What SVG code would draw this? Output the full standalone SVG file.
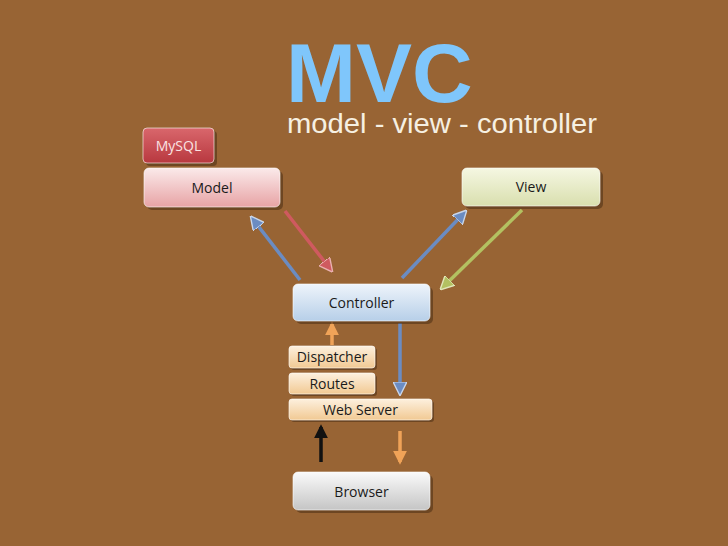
<svg xmlns="http://www.w3.org/2000/svg" width="728" height="546" viewBox="0 0 728 546">
<defs>
<linearGradient id="gRed" x1="0" y1="0" x2="0" y2="1"><stop offset="0" stop-color="#d9676c"/><stop offset="1" stop-color="#b8383f"/></linearGradient>
<linearGradient id="gPink" x1="0" y1="0" x2="0" y2="1"><stop offset="0" stop-color="#fbeaea"/><stop offset="1" stop-color="#e7a3a5"/></linearGradient>
<linearGradient id="gGreen" x1="0" y1="0" x2="0" y2="1"><stop offset="0" stop-color="#f5f7e2"/><stop offset="1" stop-color="#d9dfae"/></linearGradient>
<linearGradient id="gBlue" x1="0" y1="0" x2="0" y2="1"><stop offset="0" stop-color="#eef4fb"/><stop offset="1" stop-color="#b7cfe8"/></linearGradient>
<linearGradient id="gPeach" x1="0" y1="0" x2="0" y2="1"><stop offset="0" stop-color="#fdf0de"/><stop offset="1" stop-color="#f1c993"/></linearGradient>
<linearGradient id="gGray" x1="0" y1="0" x2="0" y2="1"><stop offset="0" stop-color="#fafafa"/><stop offset="1" stop-color="#c5c5c5"/></linearGradient>
<marker id="mBlue" viewBox="0 0 10 10" refX="8" refY="5" markerWidth="4" markerHeight="4" orient="auto"><path d="M0,0 L10,5 L0,10 z" fill="#6b8cc2" stroke="#c9d6ea" stroke-width="1"/></marker>
<marker id="mRed" viewBox="0 0 10 10" refX="8" refY="5" markerWidth="4" markerHeight="4" orient="auto"><path d="M0,0 L10,5 L0,10 z" fill="#cf5a5f" stroke="#eab0b0" stroke-width="1"/></marker>
<marker id="mGreen" viewBox="0 0 10 10" refX="8" refY="5" markerWidth="4" markerHeight="4" orient="auto"><path d="M0,0 L10,5 L0,10 z" fill="#b3c161" stroke="#e1e6b8" stroke-width="1"/></marker>
<marker id="mOrange" viewBox="0 0 10 10" refX="8" refY="5" markerWidth="4" markerHeight="4" orient="auto"><path d="M0,0 L10,5 L0,10 z" fill="#f0a358"/></marker>
<marker id="mBlack" viewBox="0 0 10 10" refX="8" refY="5" markerWidth="4" markerHeight="4" orient="auto"><path d="M0,0 L10,5 L0,10 z" fill="#111"/></marker>
</defs>
<style>
.shadow{fill:#4a2e14;opacity:0.55}
.box{stroke:#ffffff;stroke-opacity:0.6;stroke-width:1}
.lbl{font-family:"Open Sans","Noto Sans",sans-serif;font-size:14px;fill:#1a1a1a;text-anchor:middle}
.arr{fill:none;stroke-width:3.5;stroke-linecap:butt}
</style>
<rect width="728" height="546" fill="#986434"/>
<g id="title">
<text x="286" y="102" font-family="Liberation Sans, Arial, sans-serif" font-weight="bold" font-size="84" fill="#7fc6fb">MVC</text>
<text x="287" y="133" font-family="Liberation Sans, Arial, sans-serif" font-size="27" textLength="310" lengthAdjust="spacingAndGlyphs" fill="#f6f0e2">model - view - controller</text>
</g>
<g id="connectors">
<line class="arr" x1="300" y1="280" x2="252" y2="218" stroke="#6b8cc2" marker-end="url(#mBlue)"/>
<line class="arr" x1="285" y1="211" x2="331" y2="270" stroke="#cf5a5f" marker-end="url(#mRed)"/>
<line class="arr" x1="402" y1="278" x2="465" y2="212" stroke="#6b8cc2" marker-end="url(#mBlue)"/>
<line class="arr" x1="522" y1="210" x2="442" y2="288" stroke="#b3c161" marker-end="url(#mGreen)"/>
<line class="arr" x1="332" y1="345" x2="332" y2="324" stroke="#f0a358" marker-end="url(#mOrange)"/>
<line class="arr" x1="400" y1="323" x2="400" y2="393" stroke="#6b8cc2" marker-end="url(#mBlue)"/>
<line class="arr" x1="321" y1="462" x2="321" y2="427" stroke="#111" stroke-width="2" marker-end="url(#mBlack)"/>
<line class="arr" x1="400" y1="431" x2="400" y2="462" stroke="#f0a358" marker-end="url(#mOrange)"/>
</g>
<g id="mysql">
<rect class="shadow" x="146" y="131" width="71" height="35" rx="4"/>
<rect class="box" x="143" y="128" width="71" height="35" rx="4" fill="url(#gRed)"/>
<text class="lbl" x="178.5" y="150.5" style="fill:#fbe3e3">MySQL</text>
</g>
<g id="model">
<rect class="shadow" x="147" y="171" width="136" height="39" rx="5"/>
<rect class="box" x="144" y="168" width="136" height="39" rx="5" fill="url(#gPink)"/>
<text class="lbl" x="212" y="192.5">Model</text>
</g>
<g id="view">
<rect class="shadow" x="465" y="171" width="138" height="38" rx="5"/>
<rect class="box" x="462" y="168" width="138" height="38" rx="5" fill="url(#gGreen)"/>
<text class="lbl" x="531" y="192">View</text>
</g>
<g id="controller">
<rect class="shadow" x="296" y="287" width="137" height="37" rx="5"/>
<rect class="box" x="293" y="284" width="137" height="37" rx="5" fill="url(#gBlue)"/>
<text class="lbl" x="361.5" y="307.5">Controller</text>
</g>
<g id="dispatcher">
<rect class="shadow" x="291" y="348" width="86" height="22" rx="3"/>
<rect class="box" x="289" y="346" width="86" height="22" rx="3" fill="url(#gPeach)"/>
<text class="lbl" x="332" y="362">Dispatcher</text>
</g>
<g id="routes">
<rect class="shadow" x="291" y="375" width="86" height="21" rx="3"/>
<rect class="box" x="289" y="373" width="86" height="21" rx="3" fill="url(#gPeach)"/>
<text class="lbl" x="332" y="388.5">Routes</text>
</g>
<g id="webserver">
<rect class="shadow" x="291" y="401" width="143" height="21" rx="3"/>
<rect class="box" x="289" y="399" width="143" height="21" rx="3" fill="url(#gPeach)"/>
<text class="lbl" x="360.5" y="414.5">Web Server</text>
</g>
<g id="browser">
<rect class="shadow" x="296" y="475" width="137" height="38" rx="5"/>
<rect class="box" x="293" y="472" width="137" height="38" rx="5" fill="url(#gGray)"/>
<text class="lbl" x="361.5" y="496.5">Browser</text>
</g>
</svg>
